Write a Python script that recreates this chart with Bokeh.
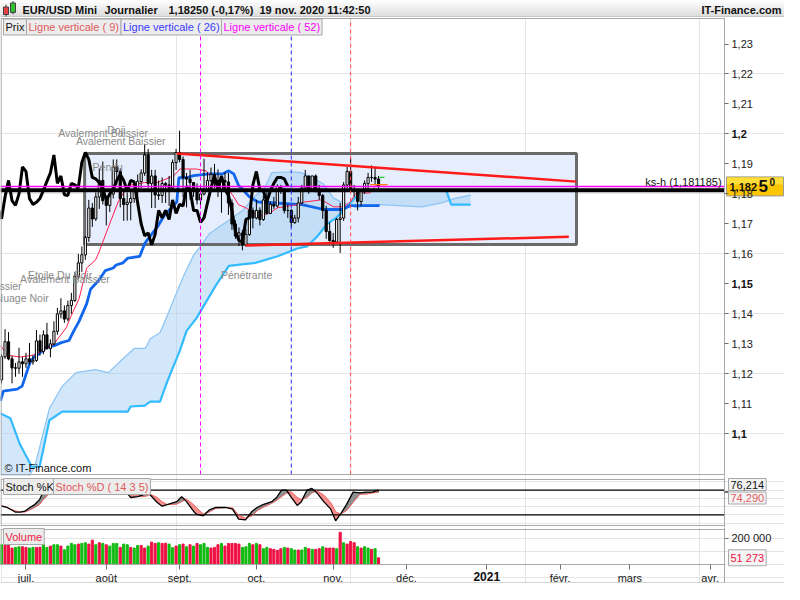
import numpy as np
from bokeh.plotting import figure
from bokeh.layouts import column
from bokeh.models import Range1d, FixedTicker, Label, LinearAxis
from bokeh.embed import file_html
from bokeh.resources import INLINE
from bokeh.core.properties import value

FONT = "Liberation Sans"

# ---------------- data (trading-day index 0 = 22 June 2020) ----------------
opens = [1.1180,1.1257,1.1307,1.1250,1.1220,1.1219,1.1240,1.1234,1.1250,1.1240,
         1.1245,1.1310,1.1275,1.1330,1.1285,1.1300,1.1342,1.1400,1.1410,1.1383,
         1.1428,1.1445,1.1525,1.1570,1.1597,1.1655,1.1753,1.1717,1.1790,1.1845,
         1.1778,1.1762,1.1800,1.1890,1.1875,1.1785,1.1765,1.1772,1.1785,1.1812,
         1.1842,1.1870,1.1930,1.1835,1.1860,1.1797,1.1795,1.1835,1.1830,1.1820,
         1.1905,1.1938,1.1915,1.1855,1.1850,1.1838,1.1818,1.1780,1.1800,1.1815,
         1.1845,1.1865,1.1845,1.1810,1.1845,1.1840,1.1770,1.1700,1.1660,1.1670,
         1.1630,1.1665,1.1745,1.1720,1.1745,1.1715,1.1780,1.1735,1.1765,1.1760,
         1.1825,1.1815,1.1745,1.1745,1.1705,1.1720,1.1770,1.1820,1.1860,1.1815,
         1.1860,1.1815,1.1795,1.1745,1.1675,1.1645,1.1640,1.1715,1.1720,1.1830,
         1.1875,1.1815,1.1810,1.1775,1.1810,1.1835,1.1855,1.1855,1.1850]
highs = [1.1265,1.1349,1.1339,1.1260,1.1236,1.1287,1.1256,1.1270,1.1303,1.1262,
         1.1346,1.1331,1.1345,1.1370,1.1315,1.1375,1.1420,1.1452,1.1428,1.1444,
         1.1470,1.1540,1.1600,1.1625,1.1660,1.1780,1.1770,1.1805,1.1885,1.1908,
         1.1790,1.1805,1.1915,1.1915,1.1885,1.1810,1.1805,1.1810,1.1833,1.1865,
         1.1882,1.1966,1.1950,1.1880,1.1880,1.1845,1.1855,1.1840,1.1860,1.1915,
         1.1950,1.2011,1.1925,1.1870,1.1880,1.1840,1.1835,1.1830,1.1917,1.1872,
         1.1888,1.1900,1.1882,1.1850,1.1872,1.1870,1.1782,1.1712,1.1688,1.1680,
         1.1685,1.1750,1.1755,1.1780,1.1755,1.1795,1.1808,1.1775,1.1790,1.1832,
         1.1830,1.1820,1.1765,1.1750,1.1730,1.1790,1.1830,1.1880,1.1860,1.1860,
         1.1865,1.1830,1.1800,1.1760,1.1705,1.1670,1.1720,1.1770,1.1840,1.1890,
         1.1920,1.1830,1.1815,1.1815,1.1845,1.1870,1.1895,1.1890,1.1860]
lows = [1.1168,1.1250,1.1245,1.1168,1.1190,1.1200,1.1190,1.1220,1.1230,1.1230,
        1.1240,1.1260,1.1265,1.1280,1.1255,1.1295,1.1330,1.1385,1.1370,1.1375,
        1.1400,1.1440,1.1515,1.1540,1.1580,1.1640,1.1690,1.1710,1.1750,1.1765,
        1.1695,1.1740,1.1785,1.1830,1.1755,1.1710,1.1711,1.1712,1.1770,1.1782,
        1.1820,1.1860,1.1820,1.1753,1.1753,1.1780,1.1770,1.1770,1.1760,1.1810,
        1.1880,1.1905,1.1789,1.1755,1.1781,1.1790,1.1765,1.1752,1.1795,1.1810,
        1.1838,1.1820,1.1790,1.1737,1.1825,1.1730,1.1680,1.1650,1.1626,1.1612,
        1.1625,1.1660,1.1685,1.1715,1.1695,1.1710,1.1730,1.1735,1.1750,1.1755,
        1.1800,1.1735,1.1720,1.1688,1.1700,1.1705,1.1765,1.1815,1.1800,1.1810,
        1.1805,1.1780,1.1717,1.1650,1.1640,1.1620,1.1640,1.1603,1.1710,1.1815,
        1.1810,1.1790,1.1745,1.1760,1.1800,1.1810,1.1840,1.1830,1.1810]
closes = [1.1257,1.1307,1.1250,1.1220,1.1219,1.1240,1.1234,1.1250,1.1240,1.1245,
          1.1310,1.1275,1.1330,1.1285,1.1300,1.1342,1.1400,1.1410,1.1383,1.1428,
          1.1445,1.1525,1.1570,1.1597,1.1655,1.1753,1.1717,1.1790,1.1845,1.1778,
          1.1762,1.1800,1.1890,1.1875,1.1785,1.1765,1.1772,1.1785,1.1812,1.1842,
          1.1870,1.1930,1.1835,1.1860,1.1797,1.1795,1.1835,1.1830,1.1820,1.1905,
          1.1938,1.1915,1.1855,1.1850,1.1838,1.1818,1.1780,1.1800,1.1815,1.1845,
          1.1865,1.1845,1.1810,1.1845,1.1840,1.1770,1.1700,1.1660,1.1670,1.1630,
          1.1665,1.1745,1.1720,1.1745,1.1715,1.1780,1.1735,1.1765,1.1760,1.1825,
          1.1815,1.1745,1.1745,1.1705,1.1720,1.1770,1.1820,1.1860,1.1815,1.1860,
          1.1815,1.1795,1.1745,1.1675,1.1645,1.1640,1.1715,1.1720,1.1830,1.1875,
          1.1815,1.1810,1.1775,1.1810,1.1835,1.1855,1.1855,1.1850,1.1825]
volumes_k = [150,150,150,125,130,135,135,130,125,130,
             130,132,150,130,140,150,150,140,112,140,
             160,150,155,160,165,155,185,150,165,160,
             150,140,160,160,130,155,150,130,125,145,
             145,125,140,170,160,165,160,162,155,128,
             140,150,155,135,150,140,
             160,150,160,130,125,130,150,160,140,160,
             160,160,155,130,135,160,150,160,150,120,
             130,120,115,108,120,130,125,120,110,110,
             110,130,120,115,115,120,135,125,125,125,
             120,245,165,155,175,165,135,125,135,125,115,120,51.273]
volume_dir = ("grrrggrrgg" "rrggrggrgg" "ggrggrrgrg" "rgggrggrgg" "rrgrrgrrgg" "rgrgrg"
              "rgggrrrgrr" "rrrgggrgrg" "grrrrgrggr" "ggrgrrgrrr" "grgrrrgrggrgr")

# Ichimoku lines (x = trading-day index, y = price)
tenkan_x = [-0.3,1.7,5.3,9.0,11.8,15.1,18.5,19.9,22.2,24.4,26.9,27.8,30.6,33.4,36.2,41.0,44.6,47.4,49.4,51.1,
            55.8,58.6,61.4,64.2,66.2,67.9,69.9,71.8,73.5,77.4,79.1,84.7,86.7,91.5,93.2,95.1,97.9,99.9,101.6,105.5,107.2,108.3]
tenkan_y = [1.1294,1.1262,1.1256,1.1262,1.1278,1.1301,1.1353,1.1392,1.1450,1.1553,1.1579,1.1602,1.1689,1.1773,1.1828,1.1838,1.1838,1.1851,1.1861,1.1883,
            1.1883,1.1877,1.1838,1.1828,1.1796,1.1764,1.1754,1.1741,1.1722,1.1741,1.1754,1.1764,1.1773,1.1780,1.1770,1.1757,1.1757,1.1773,1.1803,1.1803,1.1828,1.1835]
kijun_x = [-0.3,0.5,4.5,5.9,8.1,9.0,10.9,12.9,15.1,17.1,19.3,20.7,22.2,24.4,25.5,27.8,29.7,32.0,32.8,34.8,36.2,39.6,
           41.0,42.4,44.6,46.8,50.2,50.8,53.0,55.0,59.5,63.4,65.1,66.5,67.9,69.3,71.0,73.5,86.1,92.3,97.4,99.9,108.3]
kijun_y = [1.1110,1.1142,1.1149,1.1159,1.1236,1.1252,1.1269,1.1288,1.1294,1.1304,1.1311,1.1343,1.1375,1.1434,1.1482,1.1511,1.1544,1.1553,1.1563,1.1570,1.1586,1.1592,
           1.1634,1.1657,1.1689,1.1731,1.1773,1.1854,1.1854,1.1861,1.1867,1.1867,1.1877,1.1867,1.1828,1.1812,1.1790,1.1773,1.1764,1.1748,1.1748,1.1761,1.1761]
senkou_a_x = [-0.3,5.3,9.5,13.7,17.4,21.3,26.9,30.6,35.3,38.1,41.2,42.6,45.4,48.3,52.2,55.0,56.7,59.5,65.1,69.0,
              72.7,75.5,77.4,83.05,85.9,89.5,92.3,95.1,97.9,101.6,105.5,108.3,120.4,126.0,130.2,134.4]
senkou_a_y = [1.0761,1.0809,1.0890,1.1084,1.1159,1.1204,1.1214,1.1204,1.1256,1.1285,1.1285,1.1317,1.1337,1.1418,1.1528,1.1595,1.1621,1.1667,1.1712,1.1744,
              1.1793,1.1822,1.1871,1.1874,1.1871,1.1851,1.1832,1.1786,1.1770,1.1754,1.1764,1.1764,1.1757,1.1770,1.1786,1.1796]
senkou_b_x = [-0.3,2.5,5.3,8.7,10.9,13.7,17.4,36.2,37.0,41.0,42.6,45.4,47.4,51.1,53.0,55.8,61.4,65.1,72.7,79.1,
              84.7,87.5,90.35,93.2,96.0,98.8,100.7,102.7,104.9,127.4,128.8,134.4]
senkou_b_y = [1.1068,1.1052,1.0964,1.0890,1.0890,1.1045,1.1074,1.1074,1.1091,1.1094,1.1107,1.1107,1.1172,1.1278,1.1343,1.1385,1.1495,1.1560,1.1570,1.1592,
              1.1618,1.1625,1.1657,1.1699,1.1722,1.1754,1.1780,1.1803,1.1812,1.1812,1.1764,1.1764]
chikou_shift = 26

# drawings
box_x = [23.8, 164.7]
box_y = [1.1631, 1.1935]
trend_up_x = [50.2, 164.7]
trend_up_y = [1.1935, 1.1841]
trend_dn_x = [69.9, 162.5]
trend_dn_y = [1.1628, 1.1657]
vline_9, vline_26, vline_52 = 100, 83, 57
ks_h = 1.181185
last_price = 1.1825
marker_orange_x = [105.5, 110.6]
marker_orange_y = 1.1831
marker_green_x = [108.3, 109.7]
marker_green_y = 1.1855

# Stochastic (x = trading-day index)
stoch_x = [0,1.66,3.9,5.3,6.7,8.1,9.5,10.9,11.8,13.7,16.5,22.2,27.8,32.0,34.8,35.3,37.0,39.0,40.4,41.8,
           42.6,44.6,46.0,47.4,50.2,51.6,53.0,55.0,55.8,57.8,59.5,61.4,64.2,66.2,67.9,69.9,71.8,73.2,74.9,77.4,
           78.8,80.2,81.6,83.05,84.7,85.9,87.5,88.9,90.35,92.3,94.3,95.7,97.1,98.8,100.7,102.7,104.4,106.3,107.7,108]
stoch_k = [41,38,27,27,29,38,45,57,73,88,95,97,93,88,86,80,62,64,68,75,
           68,50,41,45,52,64,52,29,22,18,32,38,38,34,10,8,29,38,45,52,
           62,80,80,62,43,52,80,84,73,52,34,6,22,45,75,73,75,75,80,76.214]
stoch_d = [43,37,30,27,27,32,38,45,55,72,85,93,94,90,85,83,75,66,64,66,
           70,62,52,45,46,52,58,45,38,22,27,36,38,37,20,12,18,30,38,48,
           55,64,72,75,62,57,62,73,78,68,50,28,22,30,50,70,70,73,74,74.290]

price_ticks = [1.10, 1.11, 1.12, 1.13, 1.14, 1.15, 1.16, 1.17, 1.18, 1.19, 1.20, 1.21, 1.22, 1.23]
bold_ticks = [1.10, 1.15, 1.20]
month_idx = [7, 30, 51, 73, 95, 116, 139, 160, 180, 203]
month_labels = ["juil.", "août", "sept.", "oct.", "nov.", "déc.", "2021", "févr.", "mars", "avr."]

# ---------------- layout ----------------
W, FW = 784, 724          # canvas width, width of the chart panels
X0, X1 = -0.3, 207.1      # visible trading-day range of the panels
KX = (X1 - X0) / FW       # data units per pixel
XF = X0 + W * KX          # right end of the canvas (axis area)
P_LO, P_HI = 1.08641, 1.23851
MAIN_H, ST_H, VOL_H = 456, 46, 35
S_LO, S_HI = -5.4, 105.4
V_HI = 266000
PP = (P_HI - P_LO) / MAIN_H
SP = (S_HI - S_LO) / ST_H
VP = V_HI / VOL_H
GRAY = "#a8a8a8"

def mx(fpx):  # panel px -> data x
    return X0 + fpx * KX
def rx(px):   # reference px -> data x
    return X0 + px * (X1 - X0) / 739.0
def rp(py):   # reference px -> price
    return 1.2 - (py - 137) / 3090.0
def mp(fpy):
    return P_HI - fpy * PP
def ms(fpy):
    return S_HI - fpy * SP

XR = Range1d(X0, XF)

def base_fig(h, ylo, yhi):
    f = figure(frame_width=W, frame_height=h, x_range=XR, y_range=Range1d(ylo, yhi),
               toolbar_location=None, output_backend="svg", min_border=0,
               x_axis_location=None, y_axis_location=None, outline_line_color=None)
    return f

def right_axis(f, ticks, overrides):
    ax = LinearAxis(fixed_location=X1, ticker=FixedTicker(ticks=ticks),
                    major_label_overrides=overrides)
    ax.axis_line_color = GRAY
    ax.major_tick_line_color = "#707070"
    ax.major_tick_out = 4
    ax.major_tick_in = 0
    ax.minor_tick_line_color = None
    ax.major_label_text_font = FONT
    ax.major_label_text_font_size = "11px"
    ax.major_label_text_color = "#202020"
    ax.major_label_standoff = 3
    f.add_layout(ax, "right")
    return ax

def boxlabel(fig, x, y, text, color, bg="#ececec", border=GRAY, size="11px", bold=False, pad=2, align="left"):
    fig.add_layout(Label(x=x, y=y, text=text, text_color=color, text_font=FONT, text_font_size=size,
                         text_font_style="bold" if bold else "normal", text_baseline="middle",
                         text_align=align, background_fill_color=bg, border_line_color=border,
                         padding=pad))

def borders(f, ylo, yhi):
    f.segment(x0=[X0, X0], y0=[yhi, ylo], x1=[X1, X1], y1=[yhi, ylo], line_color=GRAY, line_width=1)
    f.segment(x0=[X0 + 0.5 * KX], y0=[ylo], x1=[X0 + 0.5 * KX], y1=[yhi], line_color=GRAY, line_width=1)

# ---- header ----
hdr = figure(frame_width=W, frame_height=17, x_range=Range1d(0, W), y_range=Range1d(17, 0),
             toolbar_location=None, output_backend="svg", min_border=0,
             x_axis_location=None, y_axis_location=None, outline_line_color=None)
grad = ["#fcfcfc", "#f6f6f6", "#f0f0f0", "#eaeaea", "#e4e4e4", "#dedede"]
for k, c in enumerate(grad):
    hdr.quad(left=0, right=W, top=k * 17 / 6, bottom=(k + 1) * 17 / 6, color=c)
hdr.segment(x0=[0], y0=[16.5], x1=[W], y1=[16.5], line_color="#b0b0b0")
hdr.segment(x0=[5.5, 12.5], y0=[4, 0.5], x1=[5.5, 12.5], y1=[16, 14], line_color="#404040")
hdr.quad(left=[3, 10], right=[8, 15], top=[6.5, 2.5], bottom=[14, 12],
         fill_color=["#e84040", "#30c030"], line_color="#404040")
hdr.text(x=[22, 104, 168, 259], y=[9] * 4,
         text=["EUR/USD Mini", "Journalier", "1,18250 (-0,17%)", "19 nov. 2020 11:42:50"],
         text_font=value(FONT), text_font_style="bold", text_font_size="11px",
         text_baseline="middle", text_color="#111111")
hdr.text(x=[781], y=[9], text=["IT-Finance.com"], text_font=value(FONT), text_font_style="bold",
         text_font_size="11px", text_baseline="middle", text_align="right", text_color="#111111")

# ---- main price panel ----
p = base_fig(MAIN_H + 3, P_LO - 2 * PP, P_HI + 1 * PP)
right_axis(p, price_ticks, {t: ("" if t in bold_ticks else ("%.2f" % t).replace(".", ","))
                            for t in price_ticks})

idx = np.arange(len(closes))
o = np.array(opens); c = np.array(closes)

p.quad(left=[box_x[0]], right=[box_x[1]], bottom=[box_y[0]], top=[box_y[1]],
       fill_color="#e6edfc", line_color=None)
p.patch(senkou_a_x + senkou_b_x[::-1], senkou_a_y + senkou_b_y[::-1],
        fill_color="#9ccbf5", fill_alpha=0.45, line_color=None)
p.line(senkou_a_x, senkou_a_y, line_color="#8cc4f4", line_width=1.2)
p.line(senkou_b_x, senkou_b_y, line_color="#33bbff", line_width=2.2)
p.quad(left=[box_x[0]], right=[box_x[1]], bottom=[box_y[0]], top=[box_y[1]],
       fill_color=None, line_color="#6a6a6a", line_width=3)
p.line(kijun_x, kijun_y, line_color="#1166ee", line_width=2.8)
p.line(tenkan_x, tenkan_y, line_color="#ff1f4f", line_width=1)
p.segment(x0=idx, y0=lows, x1=idx, y1=highs, line_color="black", line_width=1)
p.vbar(x=idx, top=np.maximum(o, c), bottom=np.minimum(o, c) - 0.00005, width=0.62,
       fill_color=["white" if cc >= oo else "black" for oo, cc in zip(opens, closes)],
       line_color="black", line_width=1)
p.line(idx - chikou_shift, closes, line_color="black", line_width=3)
p.line(trend_up_x, trend_up_y, line_color="#ff1a1a", line_width=2.5)
p.line(trend_dn_x, trend_dn_y, line_color="#ff1a1a", line_width=2.5)
p.segment(x0=[marker_orange_x[0], marker_green_x[0]], y0=[marker_orange_y, marker_green_y],
          x1=[marker_orange_x[1], marker_green_x[1]], y1=[marker_orange_y, marker_green_y],
          line_color=["#ff8000", "#22cc22"], line_width=1.2)
p.segment(x0=[X0], y0=[last_price], x1=[X1], y1=[last_price], line_color="#ff00ff", line_width=1.5)
p.segment(x0=[X0], y0=[ks_h], x1=[X1], y1=[ks_h], line_color="black", line_width=4)
p.segment(x0=[vline_52, vline_26, vline_9], y0=[P_LO] * 3, x1=[vline_52, vline_26, vline_9], y1=[P_HI] * 3,
          line_color=["#ff00ff", "#2a2aff", "#ff4c4c"], line_dash="4 3", line_width=1)
borders(p, P_LO, P_HI)

pat_x = [rx(59), rx(109), rx(77), rx(94), rx(28), rx(20), rx(-70), rx(-5), rx(225)]
pat_y = [rp(136.5), rp(133), rp(144), rp(171.5), rp(282.5), rp(286.5), rp(293.5), rp(306.5), rp(282)]
pat_t = ["Avalement Baissier", "Doji", "Avalement Baissier", "Pendu", "Etoile Du Soir",
         "Avalement Baissier", "Avalement Baissier", "Nuage Noir", "Pénétrante"]
p.text(x=pat_x, y=pat_y, text=pat_t, text_font=value(FONT), text_font_size="10.5px",
       text_color="#8a8a8a", text_baseline="middle")
p.text(x=[rx(736)], y=[rp(186.5)], text=["ks-h (1,181185)"], text_font=value(FONT),
       text_font_size="11px", text_color="#111111", text_baseline="middle", text_align="right")
p.text(x=[rx(4)], y=[rp(481)], text=["© IT-Finance.com"], text_font=value(FONT),
       text_font_size="11px", text_color="#111111", text_baseline="middle")

# legend row
ly = mp(8.5)
boxlabel(p, mx(3), ly, "Prix", "#111111")
boxlabel(p, mx(26), ly, "Ligne verticale ( 9)", "#e05a5a")
boxlabel(p, mx(120.5), ly, "Ligne verticale ( 26)", "#3a3aff")
boxlabel(p, mx(221), ly, "Ligne verticale ( 52)", "#ff00ff")

# bold tick labels
p.text(x=[mx(FW + 7)] * 3, y=bold_ticks, text=["1,1", "1,15", "1,2"], text_font=value(FONT),
       text_font_size="11px", text_font_style="bold", text_baseline="middle", text_color="#111111")
# current price box
p.quad(left=[mx(FW + 2)], right=[mx(W - 1)], top=[last_price + 9.5 * PP], bottom=[last_price - 9.5 * PP],
       fill_color="#fcc600", line_color="#9a9a9a", line_width=1)
p.quad(left=[mx(FW + 2.5)], right=[mx(W - 1.5)], top=[last_price + 9 * PP], bottom=[last_price + 2 * PP],
       fill_color="#ffde3a", line_color=None)
p.text(x=[mx(FW + 5)], y=[last_price - 1 * PP], text=["1,182"], text_font=value(FONT), text_font_size="11px",
       text_font_style="bold", text_baseline="middle", text_color="#111111")
p.text(x=[mx(FW + 34)], y=[last_price], text=["5"], text_font=value(FONT), text_font_size="17px",
       text_font_style="bold", text_baseline="middle", text_color="#111111")
p.text(x=[mx(FW + 45)], y=[last_price + 4 * PP], text=["0"], text_font=value(FONT), text_font_size="10px",
       text_font_style="bold", text_baseline="middle", text_color="#111111")

# ---- stochastic panel ----
s = base_fig(ST_H + 5, S_LO - 2 * SP, S_HI + 3 * SP)
right_axis(s, [stoch_k[-1], stoch_d[-1]], {stoch_k[-1]: "", stoch_d[-1]: ""})
K = np.array(stoch_k); D = np.array(stoch_d); top = np.maximum(K, D)
s.varea(x=stoch_x, y1=D, y2=top, fill_color="#7c7c7c", fill_alpha=0.85)
s.varea(x=stoch_x, y1=K, y2=top, fill_color="#f47c7c", fill_alpha=0.85)
s.segment(x0=[X0, X0], y0=[80, 20], x1=[X1, X1], y1=[80, 20], line_color="black", line_width=1.2)
s.line(stoch_x, stoch_d, line_color="#f06060", line_width=1)
s.line(stoch_x, stoch_k, line_color="black", line_width=1.3)
borders(s, S_LO, S_HI)
boxlabel(s, mx(3), ms(7), "Stoch %K", "#111111")
boxlabel(s, mx(53), ms(7), "Stoch %D ( 14 3 5)", "#e05a5a")
boxlabel(s, mx(FW + 4), ms(5), "76,214", "#111111", bg="#f4f4f4")
boxlabel(s, mx(FW + 4), ms(18.5), "74,290", "#e05a5a", bg="#f4f4f4")

# ---- volume panel ----
v = base_fig(VOL_H + 21, -19 * VP, V_HI + 2 * VP)
right_axis(v, [200000], {200000: "200 000"})
vol = np.array(volumes_k) * 1000
v.vbar(x=idx, top=vol, width=0.6,
       color=["#11bb11" if d == "g" else "#ee1144" for d in volume_dir])
borders(v, 0, V_HI)
boxlabel(v, mx(3), V_HI - 7 * VP, "Volume", "#ee2244")
boxlabel(v, mx(FW + 4), vol[-1], "51 273", "#ee1144", bg="#f4f4f4")
xa = LinearAxis(fixed_location=0, ticker=FixedTicker(ticks=month_idx),
                major_label_overrides={m: ("" if lab == "2021" else lab) for m, lab in zip(month_idx, month_labels)})
xa.axis_line_color = None
xa.major_tick_line_color = "#707070"
xa.major_tick_out = 5
xa.major_tick_in = 0
xa.minor_tick_line_color = None
xa.major_label_text_font = FONT
xa.major_label_text_font_size = "11px"
xa.major_label_text_color = "#202020"
xa.major_label_standoff = 2
v.add_layout(xa, "below")
v.text(x=[month_idx[6]], y=[-7 * VP], text=["2021"], text_font=value(FONT),
       text_font_size="12px", text_font_style="bold", text_baseline="top",
       text_align="center", text_color="#111111")
v.segment(x0=[X0], y0=[-18.5 * VP], x1=[XF], y1=[-18.5 * VP], line_color=GRAY)
v.segment(x0=[X1], y0=[-18.5 * VP], x1=[X1], y1=[0], line_color=GRAY)

layout = column(hdr, p, s, v, spacing=0)
open("out.html", "w").write(file_html(layout, INLINE))
